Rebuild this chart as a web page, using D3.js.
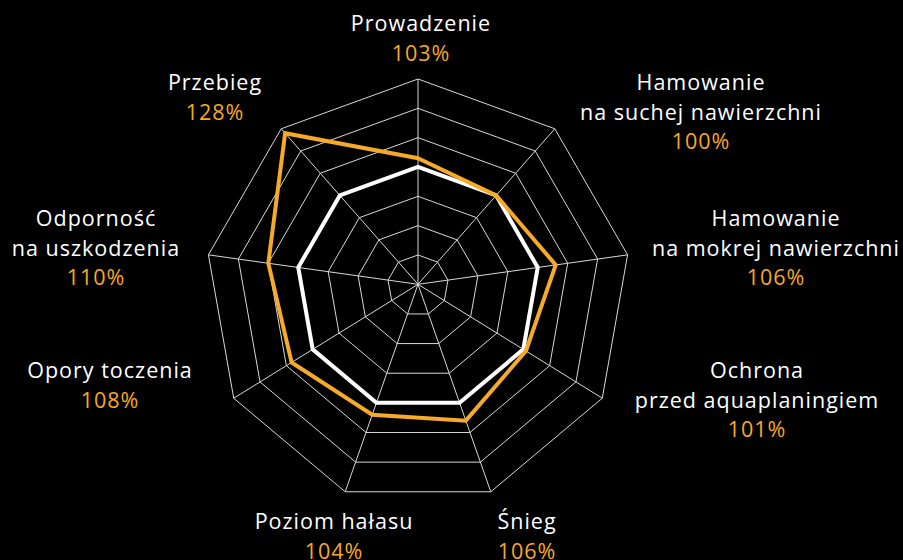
<!DOCTYPE html>
<html>
<head>
<meta charset="utf-8">
<script src="https://cdn.jsdelivr.net/npm/d3@7"></script>
<style>
  html, body { margin: 0; padding: 0; background: #000; }
  svg { display: block; }
  text { font-family: "Open Sans", sans-serif; font-size: 21.5px; letter-spacing: 1px; }
</style>
</head>
<body>
<svg id="chart" width="903" height="560"></svg>
<script>
"use strict"

// data
var categories = [
	["Prowadzenie"],
	["Hamowanie", "na suchej nawierzchni"],
	["Hamowanie", "na mokrej nawierzchni"],
	["Ochrona", "przed aquaplaningiem"],
	["Śnieg"],
	["Poziom hałasu"],
	["Opory toczenia"],
	["Odporność", "na uszkodzenia"],
	["Przebieg"]
];
var tyreValues = [103, 100, 106, 101, 106, 104, 108, 110, 128];
var referenceValues = [100, 100, 100, 100, 100, 100, 100, 100, 100];
var ringTicks = [70, 80, 90, 100, 110, 120, 130];
var scaleMin = 60;

// layout: label anchor (centre x, first baseline y) per axis
var labelPos = [
	[421, 31], [701, 90], [776, 226], [757, 378],
	[527, 529], [334, 529], [110, 378], [96, 226], [215, 90]
];
var lineGap = 29.5;

var cx = 418, cy = 284.3;   // spoke hub
var R = 212.8;              // outer ring radius
var drop = 7.5;             // outer ring centre sits lower than hub

var svg = d3.select("#chart");
var n = categories.length;
var angle = d3.scaleLinear().domain([0, n]).range([0, 2 * Math.PI]);
var rScale = d3.scaleLinear().domain([scaleMin, d3.max(ringTicks)]).range([0, 1]);

function point(i, t) {
	var a = angle(i);
	return [cx + t * R * Math.sin(a), cy + t * (drop - R * Math.cos(a))];
}

var line = d3.line().curve(d3.curveLinearClosed);

//
// grid
//
var grid = svg.append("g").attr("class", "grid");
grid.selectAll("path.ring")
	.data(ringTicks)
	.enter().append("path")
	.attr("class", "ring")
	.attr("d", function(v) {
		return line(d3.range(n).map(function(i) { return point(i, rScale(v)); }));
	})
	.attr("fill", "none")
	.attr("stroke", "#d8d8d8")
	.attr("stroke-width", 1);

grid.selectAll("line.spoke")
	.data(d3.range(n))
	.enter().append("line")
	.attr("class", "spoke")
	.attr("x1", cx).attr("y1", cy)
	.attr("x2", function(i) { return point(i, 1)[0]; })
	.attr("y2", function(i) { return point(i, 1)[1]; })
	.attr("stroke", "#d8d8d8")
	.attr("stroke-width", 1);

//
// series
//
function drawSeries(values, color) {
	svg.append("path")
		.attr("d", line(values.map(function(v, i) { return point(i, rScale(v)); })))
		.attr("fill", "none")
		.attr("stroke", color)
		.attr("stroke-width", 4)
		.attr("stroke-linejoin", "miter");
}
drawSeries(referenceValues, "#ffffff");
drawSeries(tyreValues, "#f7a928");

//
// labels
//
var labels = svg.append("g").attr("class", "labels");
categories.forEach(function(lines, i) {
	var x = labelPos[i][0], y = labelPos[i][1];
	var t = labels.append("text").attr("text-anchor", "middle");
	lines.forEach(function(s, k) {
		t.append("tspan").attr("x", x).attr("y", y + k * lineGap)
			.attr("fill", "#ffffff").text(s);
	});
	t.append("tspan").attr("x", x).attr("y", y + lines.length * lineGap)
		.attr("fill", "#f7a928").text(tyreValues[i] + "%");
});
</script>
</body>
</html>
